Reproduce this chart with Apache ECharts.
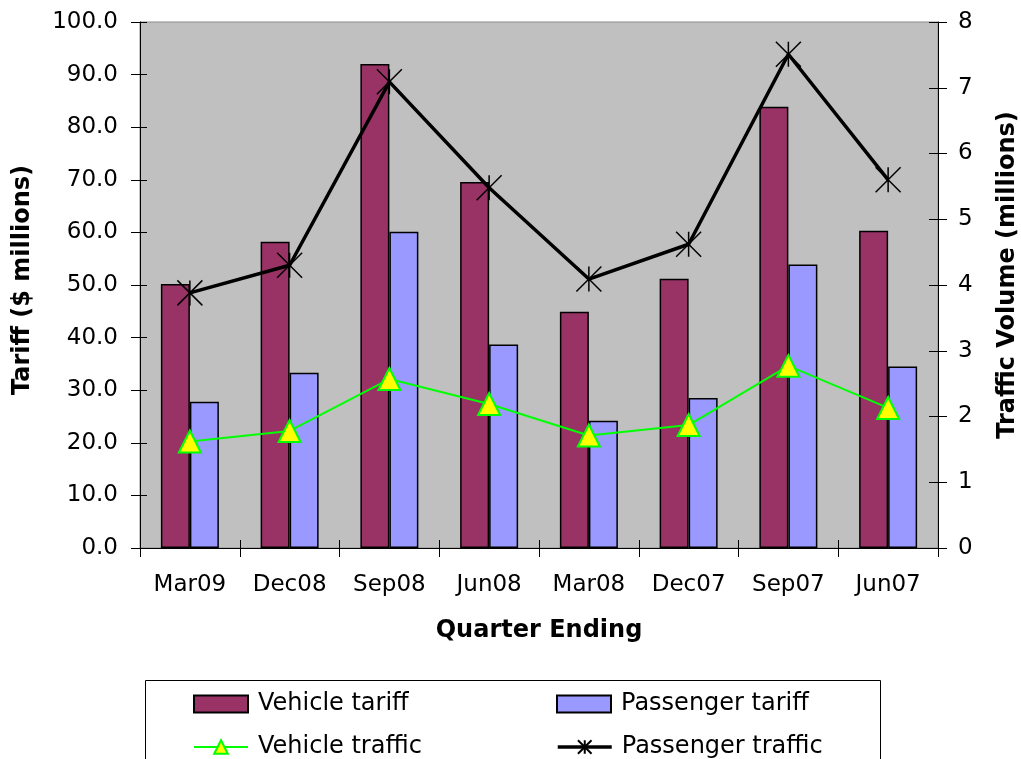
<!DOCTYPE html>
<html>
<head>
<meta charset="utf-8">
<script src="https://cdn.jsdelivr.net/npm/echarts@6/dist/echarts.min.js"></script>
<style>
  html, body { margin: 0; padding: 0; background: #fff; }
  #chart { width: 1021px; height: 759px; }
</style>
</head>
<body>
<div id="chart"></div>
<script>
// Quarterly tariff and traffic figures
const quarters = ['Mar09', 'Dec08', 'Sep08', 'Jun08', 'Mar08', 'Dec07', 'Sep07', 'Jun07'];
const vehicleTariff   = [50.2, 58.2, 92.0, 69.6, 44.9, 51.2, 83.9, 60.3];
const passengerTariff = [27.8, 33.3, 60.1, 38.7, 24.2, 28.5, 53.9, 34.5];
const vehicleTraffic   = [1.62, 1.78, 2.57, 2.19, 1.71, 1.87, 2.77, 2.13];
const passengerTraffic = [3.88, 4.30, 7.09, 5.48, 4.09, 4.62, 7.51, 5.60];

const FONT = '"DejaVu Sans", Verdana, sans-serif';
const starPath = 'path://M0,0 L10,10 M10,0 L0,10 M5,0 L5,10';

const chart = echarts.init(document.getElementById('chart'), null, { renderer: 'canvas' });

const tickStyle = { color: '#000', width: 1 };

// one legend per entry, laid out as a 2x2 block inside the framed box
function legendEntry(name, left, top, icon, lineWidth) {
  const item = icon ? { name: name, icon: icon } : { name: name };
  const lg = {
    left: left, top: top, itemWidth: 54, itemHeight: 17, padding: 0,
    textStyle: { color: '#000', fontFamily: FONT, fontSize: 24, padding: [0, 0, 0, 5] },
    data: [item]
  };
  if (lineWidth) lg.lineStyle = { width: lineWidth };
  return lg;
}

chart.setOption({
  animation: false,
  grid: {
    left: 140, right: 83, top: 22, bottom: 211,
    show: true, backgroundColor: '#C0C0C0', borderColor: '#8c8c8c', borderWidth: 1
  },
  xAxis: [
    {
      type: 'category', data: quarters, position: 'bottom',
      axisLine: { lineStyle: { color: '#000', width: 1 } },
      axisTick: { show: true, length: 9, lineStyle: tickStyle },
      axisLabel: { color: '#000', fontFamily: FONT, fontSize: 23, margin: 26 }
    },
    {
      type: 'category', data: quarters, position: 'bottom',
      axisLine: { show: false },
      axisTick: { show: true, inside: true, length: 8, lineStyle: tickStyle },
      axisLabel: { show: false }
    }
  ],
  yAxis: [
    {
      type: 'value', position: 'left', min: 0, max: 100, interval: 10,
      axisLine: { show: true, lineStyle: { color: '#000', width: 1 } },
      axisTick: { show: true, length: 9, lineStyle: tickStyle },
      axisLabel: { color: '#000', fontFamily: FONT, fontSize: 23, margin: 22,
                   formatter: v => v.toFixed(1) },
      splitLine: { show: false }
    },
    {
      type: 'value', position: 'right', min: 0, max: 8, interval: 1,
      axisLine: { show: true, lineStyle: { color: '#000', width: 1 } },
      axisTick: { show: true, length: 9, lineStyle: tickStyle },
      axisLabel: { color: '#000', fontFamily: FONT, fontSize: 23, margin: 20 },
      splitLine: { show: false }
    },
    {
      type: 'value', position: 'left', min: 0, max: 100, interval: 10,
      axisLine: { show: false },
      axisTick: { show: true, inside: true, length: 7, lineStyle: tickStyle },
      axisLabel: { show: false }, splitLine: { show: false }
    },
    {
      type: 'value', position: 'right', min: 0, max: 8, interval: 1,
      axisLine: { show: false },
      axisTick: { show: true, inside: true, length: 9, lineStyle: tickStyle },
      axisLabel: { show: false }, splitLine: { show: false }
    }
  ],
  legend: [
    legendEntry('Vehicle tariff', 193, 692, 'rect'),
    legendEntry('Passenger tariff', 556, 692, 'rect'),
    legendEntry('Vehicle traffic', 193, 735, null, 2),
    legendEntry('Passenger traffic', 556, 735, null, 3.5)
  ],
  graphic: [
    {
      type: 'rect', left: 143, top: 678, silent: true,
      shape: { width: 735, height: 110 },
      style: { fill: 'none', stroke: '#000', lineWidth: 1 }
    },
    {
      type: 'text', x: 23, y: 280, rotation: Math.PI / 2,
      style: { text: 'Tariff ($ millions)', fill: '#000', font: 'bold 24px ' + FONT,
               textAlign: 'center', textVerticalAlign: 'middle' }
    },
    {
      type: 'text', x: 1008, y: 275, rotation: Math.PI / 2,
      style: { text: 'Traffic Volume (millions)', fill: '#000', font: 'bold 24px ' + FONT,
               textAlign: 'center', textVerticalAlign: 'middle' }
    },
    {
      type: 'text', x: 539, y: 631,
      style: { text: 'Quarter Ending', fill: '#000', font: 'bold 24px ' + FONT,
               textAlign: 'center', textVerticalAlign: 'middle' }
    }
  ],
  series: [
    {
      name: 'Vehicle tariff', type: 'bar', yAxisIndex: 0, data: vehicleTariff,
      barWidth: 29, barGap: '0%',
      itemStyle: { color: '#993366', borderColor: '#000', borderWidth: 1.5 }
    },
    {
      name: 'Passenger tariff', type: 'bar', yAxisIndex: 0, data: passengerTariff,
      barWidth: 29, barGap: '0%',
      itemStyle: { color: '#9999FF', borderColor: '#000', borderWidth: 1.5 }
    },
    {
      name: 'Vehicle traffic', type: 'line', yAxisIndex: 1, data: vehicleTraffic,
      symbol: 'triangle', symbolSize: 22,
      lineStyle: { color: '#00FF00', width: 2 },
      itemStyle: { color: '#FFFF00', borderColor: '#00FF00', borderWidth: 2 }
    },
    {
      name: 'Passenger traffic', type: 'line', yAxisIndex: 1, data: passengerTraffic,
      symbol: starPath, symbolSize: 25,
      lineStyle: { color: '#000', width: 3.5 },
      itemStyle: { color: '#000', borderColor: '#000', borderWidth: 1.5 }
    }
  ]
});
</script>
</body>
</html>
